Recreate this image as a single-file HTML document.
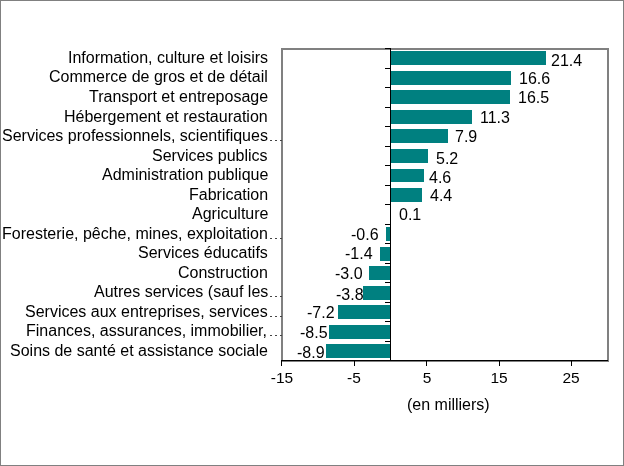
<!DOCTYPE html>
<html><head><meta charset="utf-8"><title>chart</title>
<style>
html,body{margin:0;padding:0;background:#fff;}
body{width:624px;height:466px;overflow:hidden;position:relative;font-family:"Liberation Sans",sans-serif;font-size:16px;color:#000;}
#c{position:absolute;left:0;top:0;width:622px;height:464px;border:1px solid #808080;background:#fff;}
.a{position:absolute;}
.t{position:absolute;white-space:nowrap;line-height:20px;height:20px;will-change:transform;}
.r{text-align:right;}
.e{color:#555;}
.b{position:absolute;background:#008080;}
.k{position:absolute;background:#000;}
</style></head><body>
<div id="c"></div>

<div class="a" style="left:281px;top:48px;width:324px;height:310px;border:2px solid #808080;"></div>
<div class="b" style="left:391px;top:51px;width:155px;height:14px;"></div>
<div class="b" style="left:391px;top:71px;width:120px;height:14px;"></div>
<div class="b" style="left:391px;top:90px;width:119px;height:14px;"></div>
<div class="b" style="left:391px;top:110px;width:81px;height:14px;"></div>
<div class="b" style="left:391px;top:129px;width:57px;height:14px;"></div>
<div class="b" style="left:391px;top:149px;width:37px;height:14px;"></div>
<div class="b" style="left:391px;top:169px;width:33px;height:13px;"></div>
<div class="b" style="left:391px;top:188px;width:31px;height:14px;"></div>
<div class="b" style="left:386px;top:227px;width:4px;height:14px;"></div>
<div class="b" style="left:380px;top:247px;width:10px;height:14px;"></div>
<div class="b" style="left:369px;top:266px;width:21px;height:14px;"></div>
<div class="b" style="left:363px;top:286px;width:27px;height:14px;"></div>
<div class="b" style="left:338px;top:305px;width:52px;height:14px;"></div>
<div class="b" style="left:329px;top:325px;width:61px;height:14px;"></div>
<div class="b" style="left:326px;top:344px;width:64px;height:14px;"></div>
<div class="k" style="left:281px;top:360px;width:327px;height:1px;"></div>
<div class="k" style="left:281px;top:360px;width:1px;height:6px;"></div>
<div class="k" style="left:354px;top:360px;width:1px;height:6px;"></div>
<div class="k" style="left:426px;top:360px;width:1px;height:6px;"></div>
<div class="k" style="left:499px;top:360px;width:1px;height:6px;"></div>
<div class="k" style="left:571px;top:360px;width:1px;height:6px;"></div>
<div class="k" style="left:390px;top:48px;width:1px;height:313px;"></div>
<div class="k" style="left:385px;top:48px;width:6px;height:1px;"></div>
<div class="k" style="left:385px;top:68px;width:6px;height:1px;"></div>
<div class="k" style="left:385px;top:87px;width:6px;height:1px;"></div>
<div class="k" style="left:385px;top:107px;width:6px;height:1px;"></div>
<div class="k" style="left:385px;top:126px;width:6px;height:1px;"></div>
<div class="k" style="left:385px;top:146px;width:6px;height:1px;"></div>
<div class="k" style="left:385px;top:165px;width:6px;height:1px;"></div>
<div class="k" style="left:385px;top:185px;width:6px;height:1px;"></div>
<div class="k" style="left:385px;top:204px;width:6px;height:1px;"></div>
<div class="k" style="left:385px;top:224px;width:6px;height:1px;"></div>
<div class="k" style="left:385px;top:243px;width:6px;height:1px;"></div>
<div class="k" style="left:385px;top:263px;width:6px;height:1px;"></div>
<div class="k" style="left:385px;top:282px;width:6px;height:1px;"></div>
<div class="k" style="left:385px;top:302px;width:6px;height:1px;"></div>
<div class="k" style="left:385px;top:321px;width:6px;height:1px;"></div>
<div class="k" style="left:385px;top:341px;width:6px;height:1px;"></div>
<div class="k" style="left:385px;top:360px;width:6px;height:1px;"></div>
<div class="t r" style="right:356px;top:48px;">Information, culture et loisirs</div>
<div class="t r" style="right:356px;top:67px;">Commerce de gros et de détail</div>
<div class="t r" style="right:356px;top:87px;">Transport et entreposage</div>
<div class="t r" style="right:356px;top:107px;">Hébergement et restauration</div>
<div class="t r" style="right:356px;top:126px;">Services professionnels, scientifiques</div>
<div class="a" style="left:270px;top:140px;width:2px;height:1px;background:#444;"></div>
<div class="a" style="left:275px;top:140px;width:2px;height:1px;background:#444;"></div>
<div class="a" style="left:280px;top:140px;width:2px;height:1px;background:#444;"></div>
<div class="t r" style="right:356px;top:146px;">Services publics</div>
<div class="t r" style="right:356px;top:165px;">Administration publique</div>
<div class="t r" style="right:356px;top:185px;">Fabrication</div>
<div class="t r" style="right:356px;top:204px;">Agriculture</div>
<div class="t r" style="right:356px;top:224px;">Foresterie, pêche, mines, exploitation</div>
<div class="a" style="left:270px;top:238px;width:2px;height:1px;background:#444;"></div>
<div class="a" style="left:275px;top:238px;width:2px;height:1px;background:#444;"></div>
<div class="a" style="left:280px;top:238px;width:2px;height:1px;background:#444;"></div>
<div class="t r" style="right:356px;top:243px;">Services éducatifs</div>
<div class="t r" style="right:356px;top:263px;">Construction</div>
<div class="t r" style="right:356px;top:282px;">Autres services (sauf les</div>
<div class="a" style="left:270px;top:296px;width:2px;height:1px;background:#444;"></div>
<div class="a" style="left:275px;top:296px;width:2px;height:1px;background:#444;"></div>
<div class="a" style="left:280px;top:296px;width:2px;height:1px;background:#444;"></div>
<div class="t r" style="right:356px;top:302px;">Services aux entreprises, services</div>
<div class="a" style="left:270px;top:316px;width:2px;height:1px;background:#444;"></div>
<div class="a" style="left:275px;top:316px;width:2px;height:1px;background:#444;"></div>
<div class="a" style="left:280px;top:316px;width:2px;height:1px;background:#444;"></div>
<div class="t r" style="right:357px;top:321px;">Finances, assurances, immobilier,</div>
<div class="a" style="left:270px;top:335px;width:2px;height:1px;background:#444;"></div>
<div class="a" style="left:275px;top:335px;width:2px;height:1px;background:#444;"></div>
<div class="a" style="left:280px;top:335px;width:2px;height:1px;background:#444;"></div>
<div class="t r" style="right:356px;top:341px;">Soins de santé et assistance sociale</div>
<div class="t d" id="d0" style="left:551px;top:51px;">21.4</div>
<div class="t d" id="d1" style="left:519px;top:69px;">16.6</div>
<div class="t d" id="d2" style="left:518px;top:88px;">16.5</div>
<div class="t d" id="d3" style="left:480px;top:108px;">11.3</div>
<div class="t d" id="d4" style="left:455px;top:127px;">7.9</div>
<div class="t d" id="d5" style="left:436px;top:149px;">5.2</div>
<div class="t d" id="d6" style="left:429px;top:168px;">4.6</div>
<div class="t d" id="d7" style="left:430px;top:186px;">4.4</div>
<div class="t d" id="d8" style="left:399px;top:205px;">0.1</div>
<div class="t d" id="d9" style="left:351px;top:225px;">-0.6</div>
<div class="t d" id="d10" style="left:345px;top:244px;">-1.4</div>
<div class="t d" id="d11" style="left:335px;top:264px;">-3.0</div>
<div class="t d" id="d12" style="left:336px;top:285px;">-3.8</div>
<div class="t d" id="d13" style="left:307px;top:303px;">-7.2</div>
<div class="t d" id="d14" style="left:300px;top:323px;">-8.5</div>
<div class="t d" id="d15" style="left:297px;top:343px;">-8.9</div>
<div class="t" style="left:281.6px;top:368px;width:60px;margin-left:-30px;text-align:center;font-size:15.5px;">-15</div>
<div class="t" style="left:354.4px;top:368px;width:60px;margin-left:-30px;text-align:center;font-size:15.5px;">-5</div>
<div class="t" style="left:427px;top:368px;width:60px;margin-left:-30px;text-align:center;font-size:15.5px;">5</div>
<div class="t" style="left:499.4px;top:368px;width:60px;margin-left:-30px;text-align:center;font-size:15.5px;">15</div>
<div class="t" style="left:571px;top:368px;width:60px;margin-left:-30px;text-align:center;font-size:15.5px;">25</div>
<div class="t" style="left:407px;top:395px;">(en milliers)</div>
</body></html>
